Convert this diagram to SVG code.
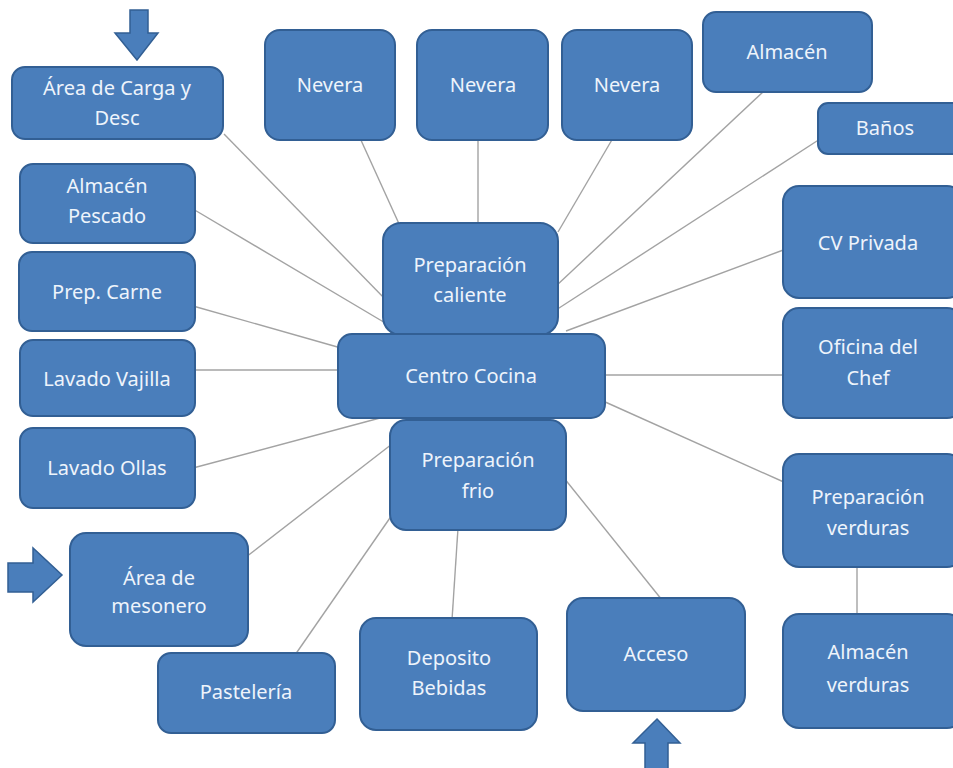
<svg xmlns="http://www.w3.org/2000/svg" width="953" height="768" viewBox="0 0 953 768">
  <style>
    .box { fill: #4a7ebb; stroke: #325f94; stroke-width: 2; }
    .lbl { font-family: "Noto Sans", "Open Sans", sans-serif; font-size: 20px; fill: #eef4fb; text-anchor: middle; }
    .link { stroke: #a3a3a3; stroke-width: 1.4; fill: none; }
    .arrow { fill: #4a7ebb; stroke: #325f94; stroke-width: 1.5; }
  </style>
  <rect width="953" height="768" fill="#ffffff"/>

  <!-- connectors (drawn beneath the boxes) -->
  <g id="connectors">
    <line class="link" x1="224" y1="134" x2="386" y2="300"/>
    <line class="link" x1="360" y1="138" x2="400" y2="226"/>
    <line class="link" x1="478" y1="138" x2="478" y2="226"/>
    <line class="link" x1="613" y1="138" x2="558" y2="232"/>
    <line class="link" x1="765" y1="90" x2="556" y2="286"/>
    <line class="link" x1="820" y1="139" x2="556" y2="310"/>
    <line class="link" x1="786" y1="249" x2="566" y2="331"/>
    <line class="link" x1="193" y1="209" x2="387" y2="324"/>
    <line class="link" x1="193" y1="306" x2="341" y2="348"/>
    <line class="link" x1="193" y1="370" x2="341" y2="370"/>
    <line class="link" x1="193" y1="468" x2="380" y2="418"/>
    <line class="link" x1="602" y1="375" x2="786" y2="375"/>
    <line class="link" x1="603" y1="401" x2="786" y2="483"/>
    <line class="link" x1="857" y1="565" x2="857" y2="616"/>
    <line class="link" x1="246" y1="557" x2="392" y2="444"/>
    <line class="link" x1="295" y1="655" x2="392" y2="515"/>
    <line class="link" x1="458" y1="528" x2="452" y2="620"/>
    <line class="link" x1="564" y1="478" x2="662" y2="600"/>
  </g>

  <!-- entry arrows -->
  <g id="arrow-top">
    <polygon class="arrow" points="130,10 148,10 148,33 158,33 137,60 115,33 130,33"/>
  </g>
  <g id="arrow-left">
    <polygon class="arrow" points="8,563 33,563 33,548 62,575 33,602 33,592 8,592"/>
  </g>
  <g id="arrow-bottom">
    <polygon class="arrow" points="657,719 680,743 668,743 668,770 645,770 645,743 633,743"/>
  </g>

  <g id="carga">
    <rect class="box" x="12" y="67" width="211" height="72" rx="13"/>
    <text class="lbl" x="117" y="95">Área de Carga y</text>
    <text class="lbl" x="117" y="125">Desc</text>
  </g>
  <g id="nevera1">
    <rect class="box" x="265" y="30" width="130" height="110" rx="15"/>
    <text class="lbl" x="330" y="92">Nevera</text>
  </g>
  <g id="nevera2">
    <rect class="box" x="417" y="30" width="131" height="110" rx="15"/>
    <text class="lbl" x="483" y="92">Nevera</text>
  </g>
  <g id="nevera3">
    <rect class="box" x="562" y="30" width="130" height="110" rx="15"/>
    <text class="lbl" x="627" y="92">Nevera</text>
  </g>
  <g id="almacen">
    <rect class="box" x="703" y="12" width="169" height="80" rx="13"/>
    <text class="lbl" x="787" y="59">Almacén</text>
  </g>
  <g id="banos">
    <rect class="box" x="818" y="103" width="145" height="51" rx="10"/>
    <text class="lbl" x="885" y="135">Baños</text>
  </g>
  <g id="almacen-pescado">
    <rect class="box" x="20" y="164" width="175" height="79" rx="13"/>
    <text class="lbl" x="107" y="193">Almacén</text>
    <text class="lbl" x="107" y="223">Pescado</text>
  </g>
  <g id="prep-carne">
    <rect class="box" x="19" y="252" width="176" height="79" rx="13"/>
    <text class="lbl" x="107" y="299">Prep. Carne</text>
  </g>
  <g id="lavado-vajilla">
    <rect class="box" x="20" y="340" width="175" height="76" rx="13"/>
    <text class="lbl" x="107" y="386">Lavado Vajilla</text>
  </g>
  <g id="lavado-ollas">
    <rect class="box" x="20" y="428" width="175" height="80" rx="13"/>
    <text class="lbl" x="107" y="475">Lavado Ollas</text>
  </g>
  <g id="prep-caliente">
    <rect class="box" x="383" y="223" width="175" height="112" rx="18"/>
    <text class="lbl" x="470" y="272">Preparación</text>
    <text class="lbl" x="470" y="302">caliente</text>
  </g>
  <g id="centro-cocina">
    <rect class="box" x="338" y="334" width="267" height="84" rx="14"/>
    <text class="lbl" x="471" y="383">Centro Cocina</text>
  </g>
  <g id="prep-frio">
    <rect class="box" x="390" y="420" width="176" height="110" rx="16"/>
    <text class="lbl" x="478" y="467">Preparación</text>
    <text class="lbl" x="478" y="498">frio</text>
  </g>
  <g id="cv-privada">
    <rect class="box" x="783" y="186" width="180" height="112" rx="16"/>
    <text class="lbl" x="868" y="250">CV Privada</text>
  </g>
  <g id="oficina-chef">
    <rect class="box" x="783" y="308" width="180" height="110" rx="16"/>
    <text class="lbl" x="868" y="354">Oficina del</text>
    <text class="lbl" x="868" y="385">Chef</text>
  </g>
  <g id="prep-verduras">
    <rect class="box" x="783" y="454" width="180" height="113" rx="16"/>
    <text class="lbl" x="868" y="504">Preparación</text>
    <text class="lbl" x="868" y="535">verduras</text>
  </g>
  <g id="almacen-verduras">
    <rect class="box" x="783" y="614" width="180" height="114" rx="16"/>
    <text class="lbl" x="868" y="659">Almacén</text>
    <text class="lbl" x="868" y="692">verduras</text>
  </g>
  <g id="mesonero">
    <rect class="box" x="70" y="533" width="178" height="113" rx="16"/>
    <text class="lbl" x="159" y="585">Área de</text>
    <text class="lbl" x="159" y="613">mesonero</text>
  </g>
  <g id="pasteleria">
    <rect class="box" x="158" y="653" width="177" height="80" rx="13"/>
    <text class="lbl" x="246" y="699">Pastelería</text>
  </g>
  <g id="deposito-bebidas">
    <rect class="box" x="360" y="618" width="177" height="112" rx="16"/>
    <text class="lbl" x="449" y="665">Deposito</text>
    <text class="lbl" x="449" y="695">Bebidas</text>
  </g>
  <g id="acceso">
    <rect class="box" x="567" y="598" width="178" height="113" rx="16"/>
    <text class="lbl" x="656" y="661">Acceso</text>
  </g>
</svg>
